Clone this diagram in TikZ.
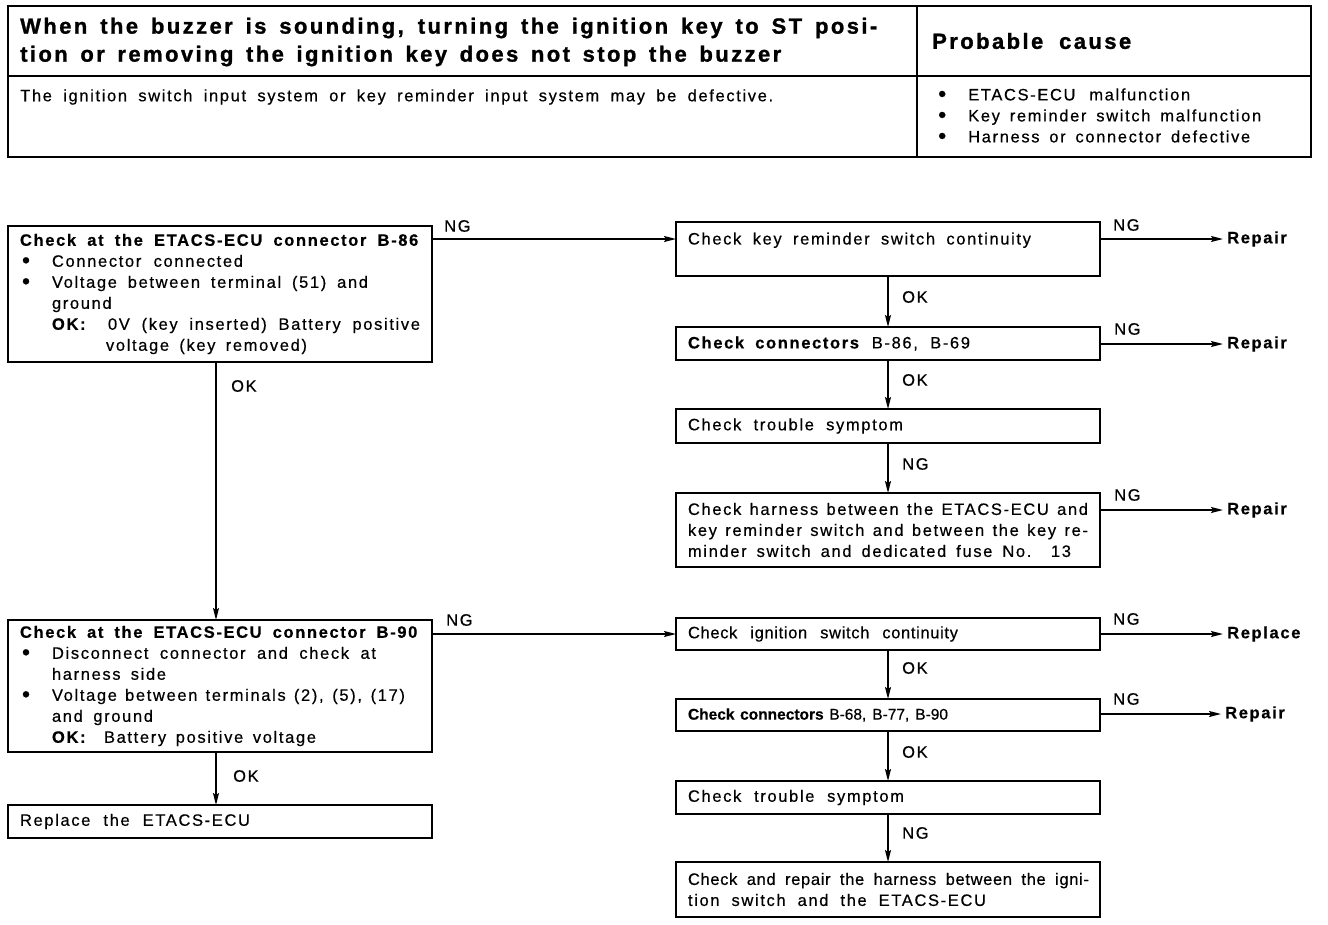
\documentclass[tikz,border=0pt]{standalone}
\usepackage{fontspec}
\setmainfont{Liberation Sans}[LetterSpace=10,FakeBold=0.5]
\newfontfamily\titlefont{Liberation Sans}[LetterSpace=11,FakeBold=1.2]
\usetikzlibrary{arrows.meta}
\newcommand{\jl}[2]{\makebox[#1pt][s]{\spaceskip=0pt\xspaceskip=0pt #2}}
\newcommand{\bul}{\hspace*{2pt}\makebox[30pt][l]{\raisebox{-1.2pt}{\fontsize{23}{21}\selectfont\textbullet}}}
\tikzset{
 box/.style={draw, line width=1.6pt, inner xsep=12pt, inner ysep=1pt, align=left,
   text width=400pt, font=\fontsize{16.5}{21}\selectfont, anchor=north west, outer sep=0pt},
 arr/.style={line width=1.5pt, -{Stealth[length=12pt,width=6pt,inset=2pt]}},
 lbl/.style={font=\fontsize{16.5}{21}\selectfont, inner sep=0pt, anchor=west},
 res/.style={font=\fontsize{16.5}{21}\selectfont\bfseries, inner sep=0pt, anchor=west},
 txt/.style={font=\fontsize{16.5}{21}\selectfont, inner sep=0pt, anchor=west, align=left},
}
\begin{document}
\begin{tikzpicture}[x=1pt,y=-1pt]
\useasboundingbox (0,0) rectangle (1328,924);
% ---- top table ----
\draw[line width=1.6pt] (8,6) rectangle (1311,157);
\draw[line width=1.6pt] (8,76) -- (1311,76);
\draw[line width=1.4pt] (917,6) -- (917,157);
\node[inner sep=0pt, anchor=west, align=left, font=\titlefont\fontsize{22}{28}\selectfont\bfseries] (title) at (20,42)
 {\jl{857}{When the buzzer is sounding, turning the ignition key to ST posi-}\\
  \jl{761}{tion or removing the ignition key does not stop the buzzer}};
\node[inner sep=0pt, anchor=west, font=\titlefont\fontsize{22}{28}\selectfont\bfseries] (cause) at (932,41)
 {\jl{199}{Probable cause}};
\node[txt] (desc) at (20,97)
 {\jl{753}{The ignition switch input system or key reminder input system may be defective.}};
\node[txt] (causes) at (936,116)
 {\bul\jl{222}{ETACS-ECU malfunction}\\
  \bul\jl{293}{Key reminder switch malfunction}\\
  \bul\jl{282}{Harness or connector defective}};
% ---- left column ----
\node[box, minimum width=424pt, minimum height=136pt] (a1) at (8,226)
 {\jl{400}{\textbf{Check at the ETACS-ECU connector B-86}}\\
  \bul\jl{191}{Connector connected}\\
  \bul\jl{316}{Voltage between terminal (51) and}\\
  \hspace*{32pt}\jl{60}{ground}\\
  \hspace*{32pt}\makebox[56pt][l]{\textbf{OK:}}\jl{312}{0V (key inserted) Battery positive}\\
  \hspace*{86pt}\jl{201}{voltage (key removed)}};
\node[box, minimum width=424pt, minimum height=132pt] (a2) at (8,620)
 {\jl{399}{\textbf{Check at the ETACS-ECU connector B-90}}\\
  \bul\jl{324}{Disconnect connector and check at}\\
  \hspace*{32pt}\jl{114}{harness side}\\
  \bul\jl{353}{Voltage between terminals (2), (5), (17)}\\
  \hspace*{32pt}\jl{101}{and ground}\\
  \hspace*{32pt}\makebox[52pt][l]{\textbf{OK:}}\jl{212}{Battery positive voltage}};
\node[box, minimum width=424pt, minimum height=33pt] (a3) at (8,805)
 {\jl{230}{Replace the ETACS-ECU}};
% ---- upper right column ----
\node[box, minimum width=423pt, minimum height=54pt] (b1) at (676,222)
 {\jl{343}{Check key reminder switch continuity}\\\mbox{}};
\node[box, minimum width=423pt, minimum height=33pt] (b2) at (676,327)
 {\jl{282}{\textbf{Check connectors} B-86, B-69}};
\node[box, minimum width=423pt, minimum height=34pt] (b3) at (676,409)
 {\jl{215}{Check trouble symptom}};
\node[box, minimum width=423pt, minimum height=74pt] (b4) at (676,493)
 {\jl{400}{Check harness between the ETACS-ECU and}\\
  \jl{400}{key reminder switch and between the key re-}\\
  \jl{383}{minder switch and dedicated fuse No. 13}};
% ---- lower right column ----
\node[box, minimum width=423pt, minimum height=32pt] (c1) at (676,618)
 {\addfontfeature{LetterSpace=4}\jl{270}{Check ignition switch continuity}};
\node[box, minimum width=423pt, minimum height=32pt] (c2) at (676,699)
 {\fontsize{15.5}{21}\selectfont\addfontfeature{LetterSpace=0}\jl{260}{\textbf{Check connectors} B-68, B-77, B-90}};
\node[box, minimum width=423pt, minimum height=33pt] (c3) at (676,781)
 {\jl{216}{Check trouble symptom}};
\node[box, minimum width=423pt, minimum height=55pt] (c4) at (676,862)
 {{\addfontfeature{LetterSpace=4}\jl{401}{Check and repair the harness between the igni-}}\\
  \jl{298}{tion switch and the ETACS-ECU}};
% ---- results ----
\node[res] (r1) at (1227,239) {Repair};
\node[res] (r2) at (1227,344) {Repair};
\node[res] (r3) at (1227,510) {Repair};
\node[res] (r4) at (1227,634) {Replace};
\node[res] (r5) at (1225,714) {Repair};
% ---- connectors ----
\draw[arr] (a1.east |- r1.west) -- (b1.west |- r1.west);
\draw[arr] (a2.east |- c1.west) -- (c1.west);
\draw[arr] ([xshift=-4pt]a1.south) -- ([xshift=-4pt]a2.north);
\draw[arr] ([xshift=-4pt]a2.south) -- ([xshift=-4pt]a3.north);
\draw[arr] (b1.east |- r1.west) -- ([xshift=-4pt]r1.west);
\draw[arr] (b2.east |- r2.west) -- ([xshift=-4pt]r2.west);
\draw[arr] (b4.east |- r3.west) -- ([xshift=-4pt]r3.west);
\draw[arr] (c1.east |- r4.west) -- ([xshift=-4pt]r4.west);
\draw[arr] (c2.east |- r5.west) -- ([xshift=-4pt]r5.west);
\draw[arr] (b1.south) -- (b2.north);
\draw[arr] (b2.south) -- (b3.north);
\draw[arr] (b3.south) -- (b4.north);
\draw[arr] (c1.south) -- (c2.north);
\draw[arr] (c2.south) -- (c3.north);
\draw[arr] (c3.south) -- (c4.north);
% ---- labels ----
\node[lbl] (l1) at (444,226) {NG};
\node[lbl] (l2) at (231,386) {OK};
\node[lbl] (l3) at (446,620) {NG};
\node[lbl] (l4) at (233,776) {OK};
\node[lbl] (l5) at (1113,225) {NG};
\node[lbl] (l6) at (902,297) {OK};
\node[lbl] (l7) at (1114,329) {NG};
\node[lbl] (l8) at (902,380) {OK};
\node[lbl] (l9) at (902,464) {NG};
\node[lbl] (l10) at (1114,495) {NG};
\node[lbl] (l11) at (1113,619) {NG};
\node[lbl] (l12) at (902,668) {OK};
\node[lbl] (l13) at (1113,699) {NG};
\node[lbl] (l14) at (902,752) {OK};
\node[lbl] (l15) at (902,833) {NG};
\end{tikzpicture}
\end{document}
